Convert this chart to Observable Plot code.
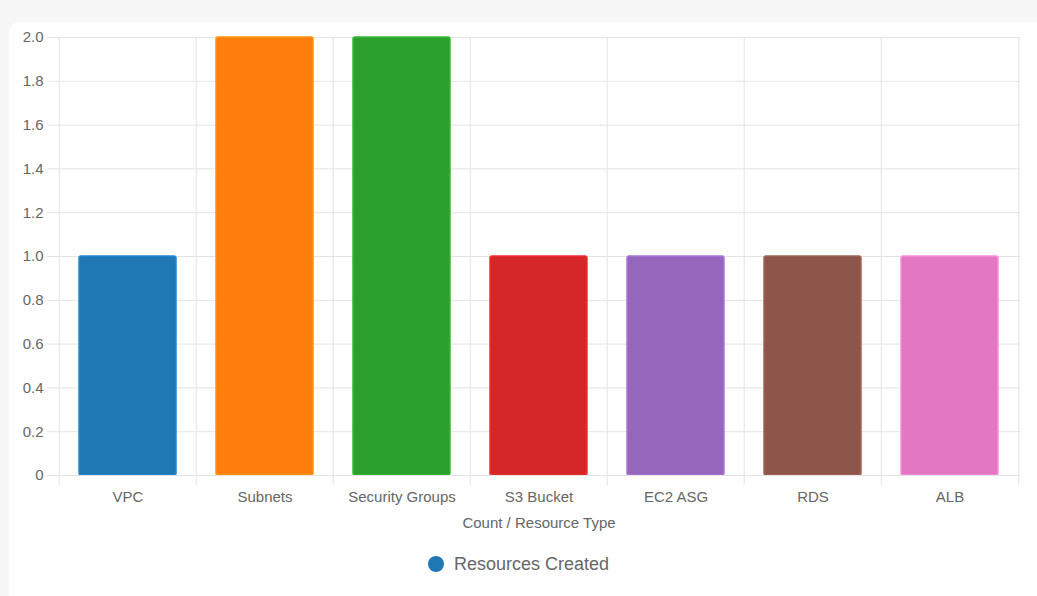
<!DOCTYPE html>
<html>
<head>
<meta charset="utf-8">
<script src="https://cdn.jsdelivr.net/npm/d3@7"></script>
<script src="https://cdn.jsdelivr.net/npm/@observablehq/plot@0.6"></script>
<style>
  body { margin: 0; background: #f7f7f7; font-family: "Liberation Sans", Arial, sans-serif; }
  #card { position: absolute; left: 9px; top: 22px; width: 1040px; height: 600px; background: #fff; border-radius: 10px; }
  #chart { position: absolute; left: 0; top: 0; }
  #legend { position: absolute; left: 0; top: 554px; width: 1037px; text-align: center; font-size: 18px; color: #666; }
  #legend span.dot { display: inline-block; width: 16px; height: 16px; border-radius: 50%; background: #1f77b4; vertical-align: -2px; margin-right: 10px; }
</style>
</head>
<body>
<div id="card"></div>
<div id="chart"></div>
<div id="legend"><span class="dot"></span>Resources Created</div>
<script>
const resources = ["VPC", "Subnets", "Security Groups", "S3 Bucket", "EC2 ASG", "RDS", "ALB"]
const counts = [1, 2, 2, 1, 1, 1, 1]
const colors = ["#1f77b4", "#ff7f0e", "#2ca02c", "#d62728", "#9467bd", "#8c564b", "#e377c2"]

const data = resources.map((r, i) => ({
  resource: r, count: counts[i], color: colors[i],
  border: d3.color(colors[i]).brighter(0.4).formatHex()
}))
const half = (1020 - 57) / resources.length / 2
const grid = "#e4e4e4"
const yTicks = d3.range(0, 2.01, 0.2)

let chart = Plot.plot({
  width: 1037,
  height: 540,
  marginLeft: 57,
  marginRight: 17,
  marginTop: 37,
  marginBottom: 65,
  style: {fontFamily: "Liberation Sans, Arial, sans-serif", fontSize: "15px", color: "#666", background: "transparent"},
  x: {domain: resources, paddingInner: 0.29, paddingOuter: 0.145, label: null},
  y: {domain: [0, 2], label: null},
  color: {type: "identity"},
  marks: [
    Plot.gridY(yTicks, {stroke: grid, strokeOpacity: 1}),
    Plot.ruleX(resources, {x: d => d, dx: -half, stroke: grid, insetBottom: -10}),
    Plot.ruleX([resources[resources.length - 1]], {x: d => d, dx: half, stroke: grid, insetBottom: -10}),
    Plot.axisY(yTicks, {tickSize: 10, stroke: grid, tickPadding: 4,
      tickFormat: d => d === 0 ? "0" : d.toFixed(1), fill: "#666", fontSize: 15}),
    Plot.axisX({tickSize: 0, tickPadding: 16, fill: "#666", fontSize: 15}),
    Plot.barY(data, {x: "resource", y: "count", fill: "color", stroke: "border", strokeWidth: 1.5, rx: 2}),
    Plot.ruleY([0], {stroke: grid}),
    Plot.text(["Count / Resource Type"], {frameAnchor: "bottom", dy: 52, fill: "#666", fontSize: 15})
  ]
})

d3.select('#chart').append(() => chart)
</script>
</body>
</html>
